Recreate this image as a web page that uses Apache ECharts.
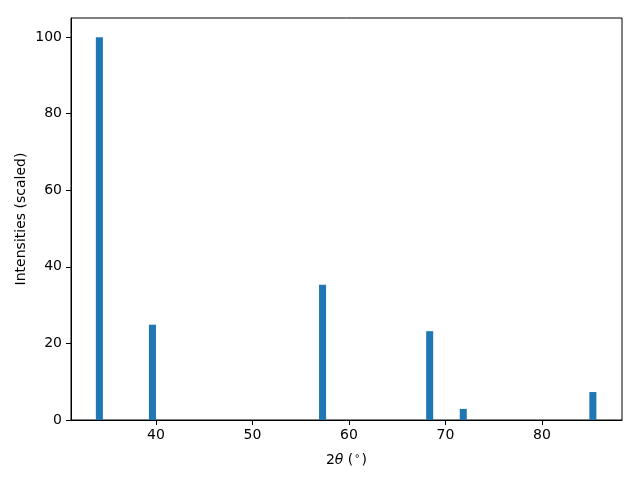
<!DOCTYPE html>
<html>
<head>
<meta charset="utf-8">
<script src="https://cdn.jsdelivr.net/npm/echarts@6/dist/echarts.min.js"></script>
<style>html,body{margin:0;padding:0;background:#fff}#c{width:640px;height:480px}</style>
</head>
<body>
<div id="c"></div>
<script>
const twoTheta = [34.14, 39.64, 57.27, 68.37, 71.85, 85.28];
const intensities = [100, 24.9, 35.3, 23.2, 2.9, 7.3];
const barWidthDeg = 0.73;
const xTicks = [40, 50, 60, 70, 80];
const yTicks = [0, 20, 40, 60, 80, 100];

const chart = echarts.init(document.getElementById('c'), null, {renderer: 'canvas'});
const font = 'DejaVu Sans';
chart.setOption({
  animation: false,
  grid: {left: 71, right: 18, top: 18, bottom: 60, show: true, borderColor: '#000', borderWidth: 1, outerBoundsMode: 'none'},
  xAxis: {
    type: 'value', min: 31.2, max: 88.3,
    name: '{n|2}{i|θ}{n| (}{s|∘}{n|)}',
    nameLocation: 'middle', nameGap: 31,
    nameTextStyle: {rich: {
      n: {fontFamily: font, fontSize: 14, color: '#000'},
      i: {fontFamily: font, fontSize: 14, fontStyle: 'italic', color: '#000'},
      s: {fontFamily: font, fontSize: 10, color: '#000', verticalAlign: 'top', padding: [0,1,8,1]}
    }},
    axisLine: {show: true, onZero: false, lineStyle: {color: '#000', width: 1}},
    axisTick: {show: true, length: 5, lineStyle: {color: '#000'}, customValues: xTicks},
    axisLabel: {color: '#000', fontFamily: font, fontSize: 14, margin: 8, customValues: xTicks},
    splitLine: {show: false}
  },
  yAxis: {
    type: 'value', min: 0, max: 105,
    name: 'Intensities (scaled)',
    nameLocation: 'middle', nameGap: 43, nameMoveOverlap: false,
    nameTextStyle: {fontFamily: font, fontSize: 14, color: '#000'},
    axisLine: {show: true, lineStyle: {color: '#000', width: 1}},
    axisTick: {show: true, length: 5, lineStyle: {color: '#000'}, customValues: yTicks},
    axisLabel: {color: '#000', fontFamily: font, fontSize: 14, margin: 9, customValues: yTicks},
    splitLine: {show: false}
  },
  series: [{
    type: 'custom',
    data: twoTheta.map((x, i) => [x, intensities[i]]),
    renderItem: function (params, api) {
      const x = api.value(0), y = api.value(1);
      const p0 = api.coord([x - barWidthDeg / 2, 0]);
      const p1 = api.coord([x + barWidthDeg / 2, y]);
      return {
        type: 'rect',
        shape: {x: p0[0], y: p1[1], width: p1[0] - p0[0], height: p0[1] - p1[1]},
        style: {fill: '#1f77b4'}
      };
    }
  }]
});
</script>
</body>
</html>
